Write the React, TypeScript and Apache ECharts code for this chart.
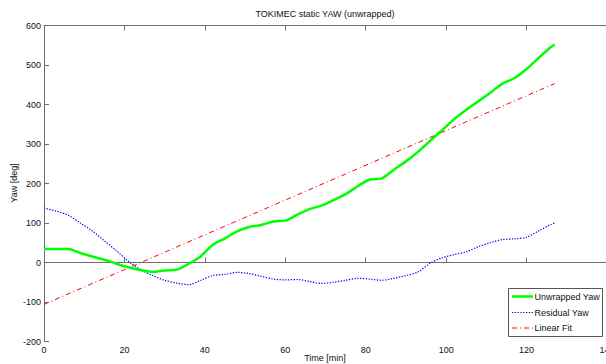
import React, { useEffect, useRef } from "react";
import * as echarts from "echarts";

const timeMin = [0, 3, 6, 9, 12, 15, 18, 21, 24, 27, 30, 33, 36, 39, 42, 45, 48, 51, 54, 57, 60, 63, 66, 69, 72, 75, 78, 81, 84, 87, 90, 93, 96, 99, 102, 105, 108, 111, 114, 117, 120, 123, 126, 127];
const unwrappedYaw = [34, 34, 34, 24, 15, 7, -3, -12, -19, -24, -20, -18, -3, 16, 45, 61, 79, 90, 95, 104, 106, 121, 135, 144, 158, 173, 193, 210, 213, 235, 256, 280, 308, 335, 363, 387, 408, 430, 453, 467, 490, 518, 545, 552];
const residualYaw = [138, 130, 120, 100, 80, 55, 30, 3, -18, -33, -45, -52, -56, -45, -33, -30, -25, -28, -35, -42, -44, -43, -48, -53, -50, -45, -40, -42, -45, -40, -33, -24, -2, 12, 20, 27, 40, 50, 58, 60, 64, 80, 96, 100];
const fitTime = [0, 127];
const linearFit = [-106, 453];

const legendNames = ["Unwrapped Yaw", "Residual Yaw", "Linear Fit"];

const xTicks = { min: 0, max: 140, interval: 20 };
const yTicks = { min: -200, max: 600, interval: 100 };

const FONT = "Liberation Sans";

export default function App() {
  const ref = useRef<HTMLDivElement>(null);
  useEffect(() => {
    const chart = echarts.init(ref.current!, null, { renderer: "svg" });
    const pair = (xs: number[], ys: number[]) => xs.map((x, i) => [x, ys[i]]);
    const axisColor = "#6e6e6e";
    const green = "#00ff00";
    const blue = "#0000ff";
    const red = "#ff0000";
    const blueDash = [1.3, 1.5];
    const redDash = [5, 3, 1, 3];
    const greenStyle = { color: green, width: 2.5 };
    const blueStyle = { color: blue, width: 1.2, type: blueDash };
    const redStyle = { color: red, width: 1, type: redDash };

    const legendRows = [
      { name: legendNames[0], y: 296.5, stroke: green, width: 2.5, dash: null as number[] | null },
      { name: legendNames[1], y: 312.5, stroke: blue, width: 1.2, dash: blueDash },
      { name: legendNames[2], y: 328, stroke: red, width: 1, dash: redDash },
    ];
    const legendGraphics: any[] = [
      {
        type: "rect",
        shape: { x: 508.5, y: 288.5, width: 94, height: 48 },
        style: { fill: "#fff", stroke: "#555", lineWidth: 1 },
        z: 100,
      },
    ];
    legendRows.forEach((r) => {
      legendGraphics.push({
        type: "line",
        shape: { x1: 512, y1: r.y, x2: 533, y2: r.y },
        style: { stroke: r.stroke, lineWidth: r.width, lineDash: r.dash || undefined },
        z: 101,
      });
      legendGraphics.push({
        type: "text",
        x: 534.5,
        y: r.y,
        style: {
          text: r.name,
          fill: "#111",
          font: `9px "${FONT}"`,
          textAlign: "left",
          textVerticalAlign: "middle",
        },
        z: 101,
      });
    });

    const textEl = (text: string, x: number, y: number, rotation = 0) => ({
      type: "text",
      x,
      y,
      rotation,
      style: {
        text,
        fill: "#111",
        font: `9px "${FONT}"`,
        textAlign: "center",
        textVerticalAlign: "middle",
      },
    });

    chart.setOption({
      animation: false,
      backgroundColor: "#fff",
      textStyle: { fontFamily: FONT },
      grid: { left: 44, top: 25.5, width: 563, height: 316, containLabel: false, outerBoundsMode: "none" },
      xAxis: [
        {
          type: "value",
          min: xTicks.min,
          max: xTicks.max,
          interval: xTicks.interval,
          position: "bottom",
          axisLine: { show: true, lineStyle: { color: axisColor, width: 1 } },
          axisTick: { show: true, inside: true, length: 5, lineStyle: { color: axisColor } },
          axisLabel: { color: "#111", fontSize: 9, fontFamily: FONT, margin: 4, showMaxLabel: true },
          splitLine: { show: false },
        },
        {
          type: "value",
          min: xTicks.min,
          max: xTicks.max,
          interval: xTicks.interval,
          position: "top",
          axisLine: { show: true, lineStyle: { color: axisColor, width: 1 } },
          axisTick: { show: true, inside: true, length: 5, lineStyle: { color: axisColor } },
          axisLabel: { show: false },
          splitLine: { show: false },
        },
      ],
      yAxis: [
        {
          type: "value",
          min: yTicks.min,
          max: yTicks.max,
          interval: yTicks.interval,
          axisLine: { show: true, lineStyle: { color: axisColor, width: 1 } },
          axisTick: { show: true, inside: true, length: 5, lineStyle: { color: axisColor } },
          axisLabel: { color: "#111", fontSize: 9, fontFamily: FONT, margin: 3 },
          splitLine: { show: false },
        },
      ],
      graphic: [
        textEl("TOKIMEC static YAW (unwrapped)", 325, 14),
        textEl("Time [min]", 325, 357.5),
        textEl("Yaw [deg]", 14, 183, Math.PI / 2),
        ...legendGraphics,
      ],
      series: [
        {
          name: legendNames[0],
          type: "line",
          data: pair(timeMin, unwrappedYaw),
          symbol: "none",
          smooth: 0.3,
          color: green,
          lineStyle: greenStyle,
          z: 3,
        },
        {
          name: legendNames[1],
          type: "line",
          data: pair(timeMin, residualYaw),
          symbol: "none",
          smooth: 0.3,
          color: blue,
          lineStyle: blueStyle,
          z: 2,
        },
        {
          name: legendNames[2],
          type: "line",
          data: pair(fitTime, linearFit),
          symbol: "none",
          color: red,
          lineStyle: redStyle,
          z: 2,
        },
      ],
    });
    return () => chart.dispose();
  }, []);
  return (
    <div
      ref={ref}
      style={{ position: "fixed", left: 0, top: 0, width: 606, height: 364, background: "#fff" }}
    />
  );
}
